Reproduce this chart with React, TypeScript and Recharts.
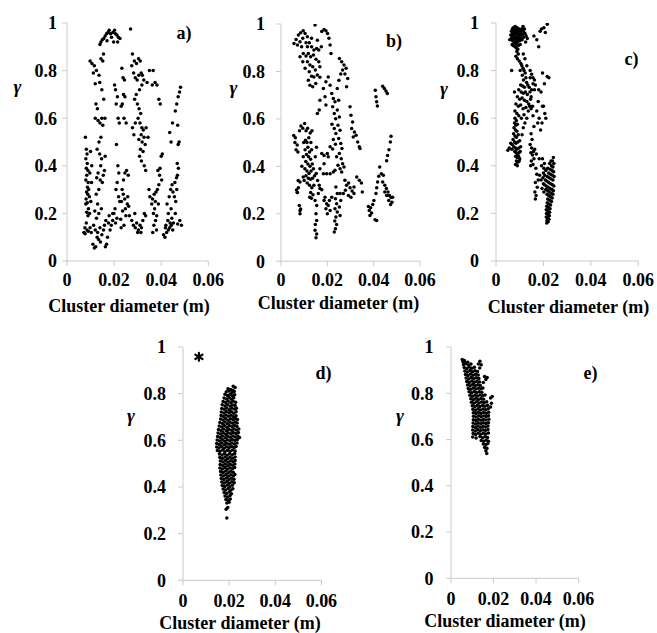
import React from 'react';
import { ScatterChart, Scatter, XAxis, YAxis } from 'recharts';

// Each point: [cluster diameter in mm, gamma]
type Pt = [number, number];

const DIAMETER_TICKS = [0, 0.02, 0.04, 0.06];
const GAMMA_TICKS = [0, 0.2, 0.4, 0.6, 0.8, 1];
const PANEL_LABELS = ['a)', 'b)', 'c)', 'd)', 'e)'];
const X_TITLE = 'Cluster diameter (m)';
const Y_TITLE = 'γ';

const caseA: Pt[] = [
  [7.8,0.52],[8.2,0.47],[8.5,0.45],[8.0,0.43],[8.6,0.41],[8.2,0.39],[8.9,0.38],[8.4,0.36],[8.0,0.34],[9.0,0.33],
  [8.7,0.31],[8.3,0.29],[9.2,0.3],[8.8,0.28],[8.1,0.26],[9.5,0.27],[8.6,0.245],[8.0,0.24],[9.1,0.22],[8.4,0.205],
  [9.6,0.2],[8.9,0.19],[8.2,0.16],[7.6,0.14],[8.5,0.13],[7.2,0.12],[9.0,0.125],[7.7,0.115],[9.8,0.14],[10.3,0.12],
  [10.0,0.46],[10.5,0.4],[9.7,0.37],[10.4,0.33],[10.1,0.25],
  [11.0,0.07],[11.6,0.055],[12.2,0.06],[12.8,0.1],[13.4,0.09],[13.0,0.12],[12.0,0.13],[11.3,0.15],[14.2,0.08],[14.8,0.11],
  [15.5,0.13],[16.3,0.06],[16.8,0.07],[17.2,0.1],[15.9,0.15],[16.5,0.17],[17.6,0.16],[18.3,0.13],[18.8,0.15],[17.9,0.19],
  [19.4,0.2],[14.0,0.14],[12.5,0.18],[11.8,0.21],[13.5,0.2],
  [12.3,0.66],[12.9,0.64],[12.0,0.6],[13.2,0.59],[14.0,0.58],[14.8,0.6],[15.2,0.57],[14.4,0.52],[13.6,0.5],[12.8,0.47],
  [13.9,0.45],[14.7,0.43],[14.3,0.4],[13.2,0.37],[12.6,0.35],[14.1,0.34],[15.0,0.33],[13.5,0.3],[12.4,0.28],[15.4,0.36],
  [13.0,0.24],[14.6,0.22],[15.9,0.38],[16.2,0.44],
  [9.8,0.84],[10.6,0.83],[11.6,0.82],[12.5,0.8],[11.2,0.79],[13.6,0.78],[12.0,0.745],[13.9,0.75],[14.4,0.85],[15.2,0.84],
  [15.5,0.87],[14.8,0.72],[15.6,0.68],[16.1,0.6],
  [14.0,0.91],[14.4,0.92],[15.0,0.93],[15.6,0.935],[16.2,0.945],[16.8,0.955],[17.4,0.96],[17.9,0.97],[18.5,0.955],[18.9,0.94],
  [19.5,0.96],[20.2,0.97],[20.6,0.955],[21.2,0.95],[21.8,0.94],[22.5,0.935],[21.5,0.92],[19.8,0.92],[27.0,0.975],[17.0,0.925],
  [20.2,0.74],[20.6,0.72],[21.4,0.69],[20.9,0.66],[21.7,0.6],[22.2,0.58],[21.0,0.49],[21.6,0.4],[22.0,0.37],[21.3,0.33],
  [20.8,0.3],[21.9,0.27],[22.4,0.25],[20.4,0.22],[19.9,0.2],[21.2,0.18],[20.6,0.16],[19.4,0.17],
  [23.3,0.81],[23.8,0.77],[24.4,0.76],[24.0,0.7],[24.6,0.69],[23.5,0.66],[23.0,0.65],[24.2,0.6],[25.1,0.58],[24.6,0.37],
  [25.3,0.38],[26.0,0.36],[24.0,0.34],[23.4,0.3],[23.9,0.28],[24.5,0.26],[23.1,0.25],[25.6,0.24],[24.8,0.22],[23.6,0.21],
  [26.2,0.23],[25.0,0.19],[22.8,0.175],[24.2,0.15],[23.0,0.14],[25.8,0.27],[26.5,0.19],
  [27.8,0.87],[28.6,0.84],[29.5,0.83],[30.4,0.85],[31.1,0.84],[27.5,0.82],[28.3,0.79],[29.0,0.77],[29.8,0.76],[30.5,0.78],
  [31.5,0.79],[32.0,0.78],[32.6,0.76],[31.8,0.74],[30.8,0.72],[29.4,0.7],[28.7,0.68],[29.9,0.66],[30.6,0.64],[31.3,0.62],
  [30.2,0.6],[31.0,0.58],[31.8,0.56],[32.4,0.55],[31.5,0.53],[30.5,0.51],[31.9,0.5],[32.7,0.52],[33.2,0.49],[31.2,0.47],
  [32.3,0.46],[30.8,0.44],[31.6,0.42],[32.8,0.4],[33.4,0.38],[29.0,0.58],[27.8,0.56],[28.4,0.53],[33.6,0.56],[34.4,0.52],
  [35.0,0.8],[34.0,0.75],[36.2,0.74],
  [27.5,0.17],[28.2,0.15],[29.0,0.14],[29.6,0.16],[30.3,0.13],[31.0,0.15],[31.6,0.14],[32.2,0.17],[32.8,0.2],[33.4,0.19],
  [28.8,0.2],[30.0,0.12],[31.4,0.12],
  [36.6,0.8],[37.4,0.75],[38.2,0.74],[39.0,0.68],[39.6,0.66],[38.6,0.38],[39.3,0.36],[40.2,0.34],[39.0,0.32],[38.4,0.3],
  [37.8,0.29],[37.0,0.28],[36.3,0.26],[37.5,0.25],[38.8,0.24],[37.2,0.22],[36.7,0.2],[38.1,0.19],[37.6,0.17],[36.9,0.15],
  [38.0,0.13],[36.4,0.12],[35.2,0.27],[34.8,0.3],[36.0,0.24],[40.5,0.45],[40.0,0.44],[39.5,0.39],
  [41.0,0.11],[41.6,0.1],[42.3,0.12],[43.0,0.13],[43.6,0.14],[44.3,0.15],[44.9,0.13],[42.0,0.15],[42.8,0.17],[43.8,0.16],
  [44.5,0.18],[45.2,0.16],[42.5,0.24],[43.4,0.27],[44.0,0.3],[44.6,0.32],[45.0,0.29],[45.6,0.27],[46.2,0.25],[46.6,0.3],
  [45.8,0.33],[46.9,0.36],[44.2,0.22],[43.0,0.2],[41.8,0.14],[46.0,0.2],
  [48.2,0.73],[47.8,0.71],[47.2,0.69],[46.6,0.66],[46.0,0.63],[44.8,0.58],[43.6,0.54],[44.2,0.5],[47.0,0.57],[47.6,0.5],
  [47.2,0.49],[46.8,0.41],[47.3,0.39],[46.5,0.35],[47.9,0.17],[48.6,0.15],[47.0,0.155],
];

const caseB: Pt[] = [
  [5.6,0.918],[6.5,0.935],[7.5,0.954],[8.5,0.963],[9.6,0.972],[10.4,0.96],[9.4,0.94],[8.2,0.925],[7.1,0.911],[8.9,0.904],
  [10.8,0.921],[11.4,0.904],[12.2,0.921],[13.2,0.904],[14.2,0.89],[15.4,0.897],[16.3,0.89],[9.6,0.876],[10.8,0.865],[11.8,0.876],
  [12.8,0.862],[14.0,0.869],[15.1,0.851],[16.3,0.841],[11.4,0.841],[12.5,0.827],[13.7,0.82],[14.8,0.806],[16.8,0.82],[12.2,0.799],
  [13.2,0.78],[11.8,0.763],[12.5,0.742],[14.2,0.777],[15.7,0.785],[16.8,0.775],[14.7,0.996],[11.4,0.946],[13.2,0.94],[15.7,0.932],
  [17.4,0.904],[10.4,0.813],[9.4,0.841],[8.2,0.862],[15.0,0.749],[13.7,0.735],
  [17.6,0.968],[18.6,0.977],[19.4,0.972],[20.1,0.96],[20.7,0.94],[21.2,0.911],[21.6,0.876],[20.4,0.777],[19.4,0.756],[21.2,0.742],
  [21.9,0.707],[22.6,0.686],[23.3,0.672],[22.3,0.651],[23.0,0.623],[23.6,0.601],[22.0,0.577],[23.0,0.559],[23.7,0.538],[22.6,0.513],
  [23.5,0.493],[22.3,0.473],[21.2,0.482],[20.0,0.454],[18.6,0.446],[17.6,0.454],[16.5,0.637],[15.7,0.623],[16.8,0.679],[18.3,0.728],
  [19.0,0.693],[19.4,0.658],
  [25.2,0.855],[26.2,0.841],[27.2,0.827],[28.1,0.813],[26.6,0.806],[25.8,0.789],[27.6,0.789],[28.8,0.77],[28.3,0.735],[25.0,0.763],
  [24.3,0.728],[24.9,0.679],[24.3,0.637],[25.2,0.608],[24.6,0.573],[25.5,0.552],[24.9,0.517],[25.8,0.496],[26.3,0.475],[25.2,0.454],
  [26.0,0.432],[26.6,0.411],[25.5,0.39],[24.6,0.404],[24.0,0.44],[26.2,0.376],[27.2,0.397],[23.3,0.383],
  [27.6,0.341],[28.3,0.32],[29.2,0.33],[29.8,0.31],[30.7,0.296],[31.5,0.285],[29.1,0.277],[30.2,0.27],[27.8,0.299],[26.9,0.285],
  [32.7,0.355],[33.8,0.341],[34.7,0.33],[35.1,0.292],[31.5,0.313],
  [29.8,0.651],[30.2,0.615],[30.9,0.587],[30.5,0.559],[31.7,0.545],[32.4,0.531],[33.1,0.503],[33.8,0.482],[34.1,0.475],[31.2,0.524],
  [5.5,0.53],[6.2,0.52],[6.0,0.5],[7.0,0.49],[6.5,0.47],[7.3,0.46],[8.0,0.55],[8.6,0.57],[9.4,0.56],[10.2,0.58],
  [10.8,0.55],[11.5,0.56],[12.6,0.54],[13.4,0.55],[12.0,0.52],[11.2,0.5],[10.6,0.51],[9.8,0.5],[12.9,0.5],[11.6,0.48],
  [10.4,0.47],[12.3,0.46],[13.2,0.47],[11.0,0.45],[11.9,0.44],[12.8,0.43],[10.7,0.42],[11.6,0.41],[12.5,0.4],[13.5,0.41],
  [10.3,0.39],[11.2,0.38],[12.1,0.37],[13.0,0.38],[14.0,0.39],[10.8,0.36],[11.8,0.35],[12.7,0.345],[13.6,0.35],[14.5,0.36],
  [11.3,0.33],[12.3,0.32],[13.3,0.31],[14.2,0.32],[12.8,0.29],[13.8,0.28],[12.4,0.27],[13.1,0.265],[15.2,0.37],[15.8,0.34],
  [9.6,0.44],[9.0,0.4],[10.0,0.34],[6.7,0.3],[7.0,0.29],[7.4,0.34],[8.5,0.22],[8.2,0.2],[14.8,0.44],[15.3,0.48],
  [7.5,0.31],[7.1,0.29],[8.2,0.334],[9.6,0.355],[8.2,0.214],[7.9,0.235],
  [14.7,0.256],[15.4,0.235],[15.1,0.2],[15.4,0.172],[14.8,0.155],[14.7,0.13],[15.4,0.115],[15.1,0.099],[16.1,0.285],[16.5,0.32],
  [16.8,0.306],[17.6,0.301],
  [19.0,0.27],[18.6,0.256],[19.7,0.242],[19.4,0.221],[20.4,0.235],[20.0,0.2],[20.9,0.256],[21.2,0.214],[21.9,0.27],[19.7,0.369],
  [21.2,0.369],[22.6,0.376],[18.3,0.369],[18.6,0.411],[16.8,0.39],[20.4,0.44],
  [23.7,0.313],[24.3,0.285],[23.5,0.263],[24.0,0.242],[23.3,0.221],[24.3,0.207],[23.7,0.186],[23.2,0.169],[24.0,0.155],[23.5,0.137],
  [23.0,0.123],[25.2,0.228],[25.5,0.193],[25.8,0.256],[25.5,0.285],
  [37.7,0.231],[38.1,0.214],[38.7,0.225],[39.1,0.203],[38.4,0.193],[39.6,0.239],[40.1,0.256],[40.6,0.175],[41.3,0.172],[41.0,0.285],
  [41.3,0.31],[41.7,0.334],[42.2,0.358],[42.6,0.397],[43.3,0.369],[44.2,0.362],[43.9,0.334],[44.8,0.32],[45.5,0.306],[46.2,0.292],
  [46.8,0.277],[47.5,0.268],[47.9,0.249],[47.3,0.239],[46.5,0.256],[45.6,0.277],[48.2,0.27],[44.8,0.292],
  [40.7,0.721],[41.0,0.693],[41.3,0.672],[41.6,0.654],[43.9,0.738],[44.6,0.728],[45.3,0.718],[45.9,0.707],
  [47.5,0.527],[47.2,0.503],[46.6,0.47],[46.0,0.446],[45.6,0.423],
];

const caseC: Pt[] = [
  [5.8,0.93],[6.2,0.95],[6.5,0.965],[6.9,0.975],[7.3,0.98],[7.7,0.97],[8.1,0.985],[8.5,0.975],[8.9,0.98],[9.3,0.97],
  [9.8,0.975],[10.3,0.965],[10.8,0.975],[11.3,0.97],[11.8,0.96],[12.3,0.955],[12.7,0.945],[6.4,0.935],[6.9,0.945],[7.3,0.955],
  [7.7,0.95],[8.1,0.96],[8.5,0.955],[8.9,0.96],[9.3,0.95],[9.7,0.955],[10.1,0.945],[10.6,0.955],[11.1,0.95],[11.6,0.94],
  [7.0,0.925],[7.5,0.935],[8.0,0.94],[8.4,0.93],[8.8,0.94],[9.2,0.93],[9.6,0.935],[10.0,0.925],[10.5,0.935],[11.0,0.93],
  [7.6,0.915],[8.2,0.92],[8.7,0.91],[9.1,0.92],[9.5,0.905],[10.2,0.91],[8.0,0.9],[8.6,0.895],[9.2,0.89],[7.2,0.905],
  [6.8,0.91],[9.9,0.97],[8.3,0.97],[7.0,0.96],[11.4,0.985],[12.0,0.975],[13.2,0.935],[12.5,0.92],
  [8.8,0.88],[9.4,0.87],[8.4,0.86],[9.0,0.85],[9.8,0.84],[10.5,0.83],[10.9,0.82],[11.4,0.81],[10.2,0.8],[11.8,0.8],
  [12.3,0.79],[11.1,0.78],[12.6,0.77],[11.6,0.76],[12.9,0.75],[10.4,0.74],[11.2,0.735],[12.0,0.73],[13.4,0.74],[14.0,0.73],
  [9.6,0.72],[10.6,0.71],[11.5,0.705],[12.4,0.71],[13.2,0.7],[14.3,0.71],[15.0,0.72],[9.0,0.69],[10.0,0.68],[11.0,0.685],
  [12.0,0.675],[13.0,0.67],[13.8,0.66],[14.6,0.68],[8.4,0.66],[9.4,0.65],[10.4,0.655],[11.4,0.64],[12.6,0.645],[13.6,0.63],
  [14.8,0.64],[15.4,0.65],[8.0,0.63],[8.8,0.62],[9.6,0.61],[10.7,0.6],[11.8,0.615],[13.0,0.6],[12.2,0.58],[6.6,0.8],
  [7.8,0.71],[15.6,0.77],[16.2,0.76],[16.6,0.74],[15.0,0.785],[14.4,0.8],[13.0,0.82],[11.5,0.87],[12.2,0.85],
  [8.0,0.6],[8.6,0.59],[7.8,0.58],[8.4,0.57],[9.0,0.575],[7.6,0.56],[8.2,0.55],[8.8,0.545],[7.4,0.535],[8.0,0.525],
  [8.6,0.52],[9.4,0.53],[7.2,0.51],[7.8,0.5],[8.4,0.495],[9.2,0.5],[10.0,0.505],[6.8,0.49],[7.5,0.48],[8.2,0.475],
  [8.8,0.47],[9.6,0.475],[10.4,0.48],[7.9,0.46],[8.5,0.455],[9.1,0.45],[9.7,0.455],[10.2,0.46],[8.3,0.44],[8.9,0.435],
  [9.5,0.44],[10.0,0.43],[8.6,0.42],[9.2,0.415],[9.8,0.42],[8.2,0.405],[9.0,0.4],[5.0,0.465],[5.6,0.475],[6.2,0.495],
  [6.7,0.47],[11.0,0.53],[11.5,0.56],
  [14.4,0.77],[15.6,0.745],[16.2,0.72],[14.8,0.69],[14.2,0.65],[15.6,0.61],[17.2,0.63],[18.2,0.6],[17.6,0.58],[16.0,0.565],
  [14.8,0.535],[15.2,0.51],[14.4,0.49],[15.0,0.475],[15.8,0.46],[14.7,0.455],[16.3,0.47],[15.4,0.445],[16.0,0.43],[14.9,0.42],
  [15.6,0.405],[14.6,0.4],[16.8,0.39],[17.2,0.365],[17.8,0.34],[16.6,0.33],[17.4,0.31],[16.4,0.29],[16.9,0.275],[16.6,0.26],
  [18.2,0.43],[17.0,0.45],[18.8,0.55],[19.4,0.58],[17.8,0.67],[19.6,0.65],[20.0,0.65],[18.0,0.72],
  [18.0,0.9],[18.6,0.965],[19.2,0.975],[20.2,0.98],[20.8,0.96],[21.6,0.995],[17.2,0.93],[16.0,0.945],[19.6,0.79],[20.4,0.745],
  [21.6,0.775],[22.3,0.77],[19.0,0.71],[20.6,0.62],[21.0,0.6],
  [24.2,0.435],[23.8,0.42],[24.4,0.41],[23.4,0.4],[24.0,0.395],[22.8,0.385],[23.6,0.38],[24.3,0.375],[22.2,0.37],[23.0,0.365],
  [23.8,0.36],[24.5,0.355],[21.6,0.355],[22.4,0.35],[23.2,0.345],[24.0,0.34],[20.8,0.34],[21.5,0.335],[22.2,0.33],[23.0,0.325],
  [23.8,0.32],[24.4,0.315],[20.4,0.32],[21.2,0.315],[22.0,0.31],[22.8,0.305],[23.6,0.3],[24.2,0.295],[21.0,0.3],[21.8,0.295],
  [22.5,0.29],[23.3,0.285],[24.0,0.28],[21.5,0.28],[22.2,0.275],[23.0,0.27],[23.7,0.265],[21.8,0.26],[22.6,0.255],[23.4,0.25],
  [21.6,0.245],[22.3,0.24],[23.0,0.235],[21.4,0.23],[22.1,0.225],[22.8,0.22],[21.2,0.215],[21.9,0.21],[22.6,0.205],[21.3,0.2],
  [22.0,0.195],[22.5,0.19],[21.2,0.185],[21.8,0.18],[22.3,0.175],[21.5,0.17],[22.0,0.165],[21.4,0.16],
  [19.6,0.43],[20.4,0.41],[19.2,0.4],[20.0,0.37],[18.4,0.36],[19.0,0.34],[19.8,0.35],[20.6,0.36],[19.4,0.305],[20.2,0.29],
  [23.2,0.42],[22.6,0.41],[21.8,0.39],[21.0,0.38],[20.2,0.39],[20.0,0.325],
];

const caseD: Pt[] = [
  [21.8,0.832],[22.6,0.826],
  [19.5,0.821],[20.6,0.818],[21.6,0.815],
  [18.8,0.808],[20.0,0.811],[21.2,0.804],[22.2,0.809],
  [18.2,0.797],[19.3,0.792],[20.4,0.798],[21.5,0.79],[22.4,0.795],
  [17.8,0.781],[18.9,0.777],[20.0,0.784],[21.0,0.776],[22.0,0.782],
  [17.4,0.766],[18.5,0.762],[19.6,0.769],[20.7,0.761],[21.8,0.767],[22.8,0.763],
  [17.0,0.752],[18.2,0.747],[19.3,0.754],[20.5,0.746],[21.5,0.751],[22.6,0.749],
  [16.8,0.736],[17.9,0.733],[19.0,0.739],[20.1,0.731],[21.2,0.737],[22.3,0.734],[23.2,0.738],
  [16.6,0.721],[17.7,0.717],[18.8,0.724],[19.9,0.718],[21.0,0.722],[22.0,0.716],[23.0,0.723],
  [16.5,0.706],[17.5,0.702],[18.6,0.708],[19.7,0.703],[20.8,0.707],[21.9,0.701],[23.0,0.705],
  [16.3,0.691],[17.4,0.687],[18.5,0.693],[19.5,0.686],[20.6,0.692],[21.7,0.688],[22.8,0.694],[23.6,0.689],
  [16.0,0.676],[17.1,0.672],[18.2,0.678],[19.3,0.671],[20.4,0.677],[21.5,0.673],[22.6,0.679],[23.5,0.674],
  [15.7,0.661],[16.8,0.657],[17.9,0.663],[19.0,0.656],[20.2,0.662],[21.3,0.658],[22.4,0.664],[23.4,0.659],
  [15.4,0.646],[16.5,0.642],[17.6,0.648],[18.8,0.641],[19.9,0.647],[21.0,0.643],[22.1,0.649],[23.2,0.644],[24.2,0.648],
  [15.2,0.631],[16.3,0.627],[17.4,0.633],[18.5,0.626],[19.6,0.632],[20.7,0.628],[21.8,0.634],[22.9,0.629],[24.0,0.633],
  [15.0,0.616],[16.1,0.612],[17.2,0.618],[18.3,0.611],[19.4,0.617],[20.5,0.613],[21.6,0.619],[22.7,0.614],[23.8,0.618],[24.5,0.612],
  [14.8,0.601],[15.9,0.597],[17.0,0.603],[18.1,0.596],[19.2,0.602],[20.3,0.598],[21.4,0.604],[22.5,0.599],[23.6,0.603],
  [14.6,0.586],[15.7,0.582],[16.8,0.588],[17.9,0.581],[19.0,0.587],[20.1,0.583],[21.2,0.589],[22.3,0.584],[23.4,0.588],
  [14.6,0.571],[15.6,0.567],[16.7,0.573],[17.8,0.566],[18.9,0.572],[20.0,0.568],[21.1,0.574],[22.2,0.569],[23.0,0.573],
  [14.9,0.556],[16.0,0.552],[17.1,0.558],[18.2,0.551],[19.3,0.557],[20.4,0.553],[21.5,0.559],[22.6,0.554],
  [15.8,0.541],[16.9,0.537],[18.0,0.543],[19.1,0.536],[20.2,0.542],[21.3,0.538],[22.4,0.544],
  [16.0,0.526],[17.1,0.522],[18.2,0.528],[19.3,0.521],[20.4,0.527],[21.5,0.523],[22.6,0.529],
  [16.2,0.511],[17.3,0.507],[18.4,0.513],[19.5,0.506],[20.6,0.512],[21.7,0.508],[22.6,0.514],
  [16.1,0.496],[17.2,0.492],[18.3,0.498],[19.4,0.491],[20.5,0.497],[21.6,0.493],[22.5,0.499],
  [16.0,0.481],[17.1,0.477],[18.2,0.483],[19.3,0.476],[20.4,0.482],[21.5,0.478],[22.4,0.484],
  [16.3,0.466],[17.4,0.462],[18.5,0.468],[19.6,0.461],[20.7,0.467],[21.8,0.463],
  [16.4,0.451],[17.5,0.447],[18.6,0.453],[19.7,0.446],[20.8,0.452],[21.9,0.448],[22.5,0.454],
  [16.6,0.436],[17.7,0.432],[18.8,0.438],[19.9,0.431],[21.0,0.437],[22.1,0.433],
  [16.8,0.421],[17.9,0.417],[19.0,0.423],[20.1,0.416],[21.2,0.422],[22.2,0.418],
  [17.0,0.406],[18.1,0.402],[19.2,0.408],[20.3,0.401],[21.4,0.407],
  [17.4,0.391],[18.5,0.387],[19.6,0.393],[20.7,0.386],[21.6,0.392],
  [17.8,0.376],[18.9,0.372],[20.0,0.378],[21.0,0.371],
  [18.2,0.361],[19.3,0.357],[20.4,0.363],
  [18.6,0.346],[19.6,0.342],[20.5,0.348],
  [19.0,0.331],[20.0,0.335],
  [18.7,0.305],[19.4,0.312],[19.0,0.267],
];

// Isolated outlier in case d, drawn as an asterisk
const caseDOutlier: Pt[] = [[6.9, 0.958]];

const caseE: Pt[] = [
  [5.3,0.946],[6.3,0.942],
  [5.6,0.936],[6.8,0.932],[7.9,0.934],[13.6,0.938],
  [5.9,0.924],[7.1,0.928],[8.3,0.921],[9.4,0.926],[12.9,0.927],[14.2,0.923],
  [6.2,0.911],[7.4,0.907],[8.6,0.913],[9.8,0.908],[11.0,0.912],[13.5,0.909],
  [6.5,0.896],[7.7,0.892],[8.9,0.898],[10.1,0.893],[11.3,0.897],[12.5,0.894],
  [6.8,0.881],[8.0,0.877],[9.2,0.883],[10.4,0.878],[11.6,0.882],[12.8,0.879],[15.8,0.872],[17.0,0.868],
  [7.1,0.866],[8.3,0.862],[9.5,0.868],[10.7,0.863],[11.9,0.867],[13.1,0.864],[16.4,0.86],
  [7.4,0.851],[8.6,0.847],[9.8,0.853],[11.0,0.848],[12.2,0.852],[13.4,0.849],[15.2,0.846],
  [7.8,0.836],[9.0,0.832],[10.2,0.838],[11.4,0.833],[12.6,0.837],[13.8,0.834],
  [8.1,0.821],[9.3,0.817],[10.5,0.823],[11.7,0.818],[12.9,0.822],[14.1,0.819],[15.0,0.823],
  [8.5,0.806],[9.7,0.802],[10.9,0.808],[12.1,0.803],[13.3,0.807],[14.5,0.804],
  [8.9,0.791],[10.1,0.787],[11.3,0.793],[12.5,0.788],[13.7,0.792],[14.9,0.789],[16.0,0.793],[19.4,0.786],
  [9.3,0.776],[10.5,0.772],[11.7,0.778],[12.9,0.773],[14.1,0.777],[15.3,0.774],[18.6,0.779],
  [9.6,0.761],[10.8,0.757],[12.0,0.763],[13.2,0.758],[14.4,0.762],[15.6,0.759],[16.8,0.763],[19.0,0.757],
  [10.0,0.746],[11.2,0.742],[12.4,0.748],[13.6,0.743],[14.8,0.747],[16.0,0.744],[17.2,0.748],[18.6,0.741],
  [10.3,0.731],[11.5,0.727],[12.7,0.733],[13.9,0.728],[15.1,0.732],[16.3,0.729],[17.5,0.733],
  [10.5,0.716],[11.7,0.712],[12.9,0.718],[14.1,0.713],[15.3,0.717],[16.5,0.714],[17.7,0.718],
  [10.6,0.701],[11.8,0.697],[13.0,0.703],[14.2,0.698],[15.4,0.702],[16.6,0.699],[17.6,0.703],
  [10.5,0.686],[11.7,0.682],[12.9,0.688],[14.1,0.683],[15.3,0.687],[16.5,0.684],[17.8,0.688],
  [10.4,0.671],[11.6,0.667],[12.8,0.673],[14.0,0.668],[15.2,0.672],[16.4,0.669],[17.6,0.673],
  [10.3,0.656],[11.5,0.652],[12.7,0.658],[13.9,0.653],[15.1,0.657],[16.3,0.654],[17.4,0.658],
  [10.2,0.641],[11.4,0.637],[12.6,0.643],[13.8,0.638],[15.0,0.642],[16.2,0.639],[17.4,0.643],
  [10.4,0.626],[11.6,0.622],[12.8,0.628],[14.0,0.623],[15.2,0.627],[16.4,0.624],[17.6,0.628],
  [10.2,0.611],[11.8,0.607],[13.6,0.613],[14.8,0.608],[16.0,0.612],[17.2,0.609],
  [14.2,0.596],[15.4,0.592],[16.6,0.598],[17.6,0.593],
  [15.2,0.581],[16.4,0.577],[17.3,0.583],
  [15.8,0.566],[16.9,0.562],
  [16.4,0.551],[16.8,0.54],
];

// mm -> m for the x axis
const toXY = (pts: Pt[]) => pts.map(([d, g]) => ({ x: d / 1000, y: g }));

const FONT = 'Liberation Serif, DejaVu Serif, serif';
const AXIS_GREY = '#c9c9c9';

const Dot = (props: any) => <circle cx={props.cx} cy={props.cy} r={1.75} fill="#000" />;

const Asterisk = (props: any) => {
  const { cx, cy } = props;
  return (
    <g stroke="#000" strokeWidth={2.2} strokeLinecap="round">
      <line x1={cx} y1={cy - 4} x2={cx} y2={cy + 4} />
      <line x1={cx - 3.6} y1={cy - 2.2} x2={cx + 3.6} y2={cy + 2.2} />
      <line x1={cx - 3.6} y1={cy + 2.2} x2={cx + 3.6} y2={cy - 2.2} />
    </g>
  );
};

const fmtTick = (v: number) => (v === 0 ? '0' : String(v));

interface Box {
  left: number;
  top: number;
  right: number;
  bottom: number;
  yGap: number;
  xGap: number;
}

const ML = 70;
const MT = 12;
const MR = 30;
const MB = 50;

const tickStyle = {
  fontSize: 18,
  fontWeight: 700,
  fill: '#000',
  style: { fontFamily: FONT },
};

function Panel({ box, points, outlier }: { box: Box; points: Pt[]; outlier?: Pt[] }) {
  const w = box.right - box.left + ML + MR;
  const h = box.bottom - box.top + MT + MB;
  return (
    <div style={{ position: 'absolute', left: box.left - ML, top: box.top - MT, width: w, height: h }}>
      <ScatterChart
        width={w}
        height={h}
        margin={{ top: MT, right: MR, bottom: 0, left: 0 }}
        style={{ fontFamily: FONT }}
      >
        <XAxis
          type="number"
          dataKey="x"
          domain={[0, 0.06]}
          ticks={DIAMETER_TICKS}
          interval={0}
          allowDataOverflow
          height={MB}
          tickSize={5}
          tickMargin={box.xGap}
          axisLine={{ stroke: AXIS_GREY }}
          tickLine={{ stroke: AXIS_GREY }}
          tick={tickStyle}
          tickFormatter={fmtTick}
        />
        <YAxis
          type="number"
          dataKey="y"
          domain={[0, 1]}
          ticks={GAMMA_TICKS}
          interval={0}
          allowDataOverflow
          width={ML}
          tickSize={5}
          tickMargin={box.yGap}
          axisLine={{ stroke: AXIS_GREY }}
          tickLine={{ stroke: AXIS_GREY }}
          tick={tickStyle}
          tickFormatter={fmtTick}
        />
        <Scatter data={toXY(points)} shape={Dot} isAnimationActive={false} />
        {outlier && <Scatter data={toXY(outlier)} shape={Asterisk} isAnimationActive={false} />}
      </ScatterChart>
    </div>
  );
}

const boxes: Box[] = [
  { left: 66.7, top: 22.7, right: 208, bottom: 260.7, yGap: 5, xGap: 7 },
  { left: 281, top: 23.5, right: 420, bottom: 260.7, yGap: 11, xGap: 7 },
  { left: 495.7, top: 22.7, right: 638, bottom: 260.7, yGap: 12, xGap: 7 },
  { left: 183.3, top: 346.7, right: 321.7, bottom: 580, yGap: 12, xGap: 9 },
  { left: 450.7, top: 346.7, right: 578.3, bottom: 578, yGap: 12.5, xGap: 9 },
];

// Text placements: x-title centre/baseline, gamma centre/baseline, panel tag centre/baseline
const titles = [
  { tx: 129, ty: 312, gx: 17.5, gy: 93, lx: 184, ly: 39 },
  { tx: 338.5, ty: 309, gx: 233.5, gy: 94, lx: 394, ly: 47 },
  { tx: 568.5, ty: 313, gx: 444, gy: 95, lx: 631.5, ly: 65 },
  { tx: 240, ty: 629, gx: 131, gy: 422, lx: 323.5, ly: 379 },
  { tx: 505, ty: 627, gx: 400, gy: 422, lx: 590.5, ly: 379 },
];

export default function App() {
  const series = [caseA, caseB, caseC, caseD, caseE];
  return (
    <div
      style={{
        position: 'absolute',
        left: 0,
        top: 0,
        width: 657,
        height: 633,
        background: '#fff',
        overflow: 'hidden',
        fontFamily: FONT,
      }}
    >
      {boxes.map((b, i) => (
        <Panel key={i} box={b} points={series[i]} outlier={i === 3 ? caseDOutlier : undefined} />
      ))}
      <svg
        width={657}
        height={633}
        style={{ position: 'absolute', left: 0, top: 0, pointerEvents: 'none', fontFamily: FONT }}
      >
        {titles.map((t, i) => (
          <g key={i} fill="#000">
            <text x={t.tx} y={t.ty} textAnchor="middle" fontSize={18} fontWeight={700} style={{ fontFamily: FONT }}>
              {X_TITLE}
            </text>
            <text
              x={t.gx}
              y={t.gy}
              textAnchor="middle"
              fontSize={19}
              fontWeight={700}
              fontStyle="italic"
              style={{ fontFamily: FONT }}
            >
              {Y_TITLE}
            </text>
            <text x={t.lx} y={t.ly} textAnchor="middle" fontSize={18} fontWeight={700} style={{ fontFamily: FONT }}>
              {PANEL_LABELS[i]}
            </text>
          </g>
        ))}
      </svg>
    </div>
  );
}
